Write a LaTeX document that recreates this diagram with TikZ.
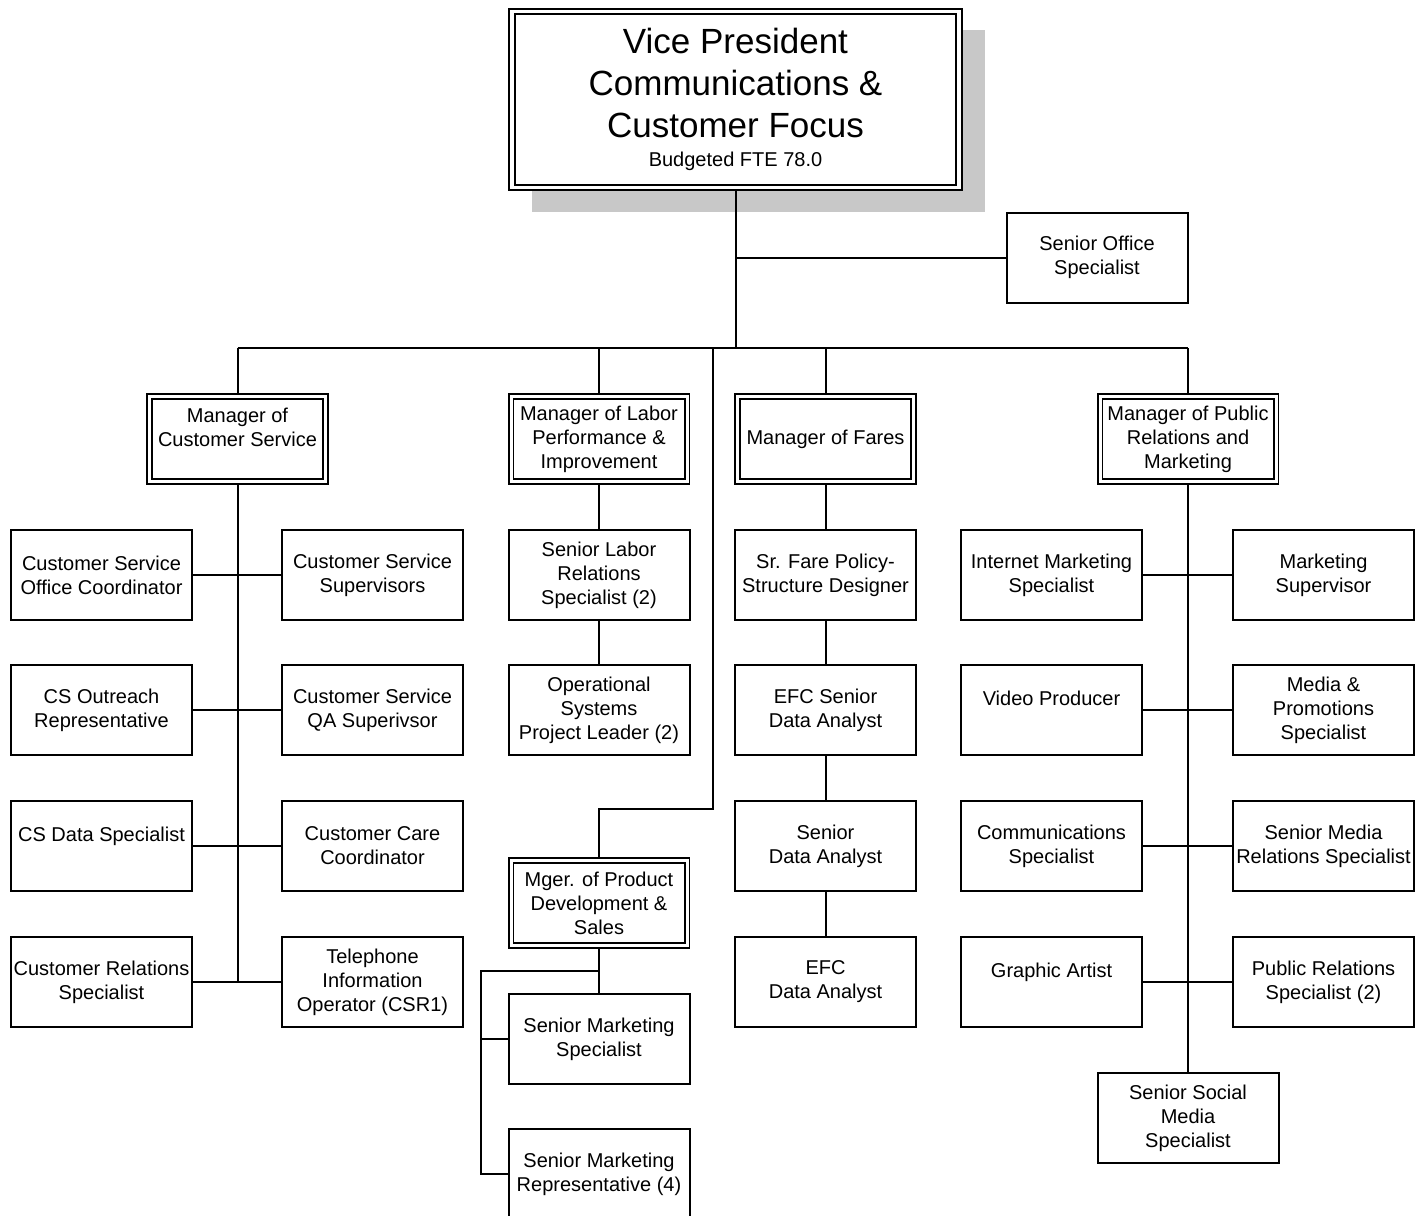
\documentclass[tikz,border=0pt]{standalone}
\usepackage{fontspec}
\setmainfont{Liberation Sans}
\usetikzlibrary{backgrounds}
\definecolor{shadowgray}{RGB}{200,200,200}
\begin{document}
\begin{tikzpicture}[x=1pt,y=-1pt,
  box/.style={draw=black, line width=2pt, fill=white, minimum width=181pt,
    minimum height=90pt, inner sep=0pt, align=center,
    font=\fontsize{20}{24}\selectfont},
  mgr/.style={box, double=white, double distance=3pt, line width=1.7pt,
    minimum width=176pt, minimum height=85pt},
  link/.style={draw=black, line width=2pt},
]
\useasboundingbox (0,0) rectangle (1426,1215);

% ---- top position ----
\node[mgr, line width=1.9pt, double distance=3.4pt, minimum width=447pt,
  minimum height=176pt, font=\fontsize{35}{42}\selectfont] (vp) at (735.5,99.5)
  {Vice President\\Communications \&\\Customer Focus\\[-13.5pt]{\fontsize{20}{24}\selectfont Budgeted FTE 78.0}};
\node[box] (sos) at (1097,257.5) {Senior Office\\Specialist};

% ---- managers ----
\node[mgr] (mcs)  at (237.5,439) {Manager of\\Customer Service\\~};
\node[mgr] (mlab) at (599,439)   {Manager of Labor\\Performance \&\\Improvement};
\node[mgr] (mfa)  at (825.5,439) {Manager of Fares};
\node[mgr] (mpr)  at (1188,439)  {Manager of Public\\Relations and\\Marketing};
\node[mgr] (mpd)  at (599,903)   {Mger. of Product\\Development \&\\Sales};

% ---- customer service ----
\node[box] (cs1l) at (101.5,575) {Customer Service\\Office Coordinator};
\node[box] (cs1r) at (372.5,575) {Customer Service\\Supervisors};
\node[box] (cs2l) at (101.5,710) {CS Outreach\\Representative};
\node[box] (cs2r) at (372.5,710) {Customer Service\\QA Superivsor};
\node[box] (cs3l) at (101.5,846) {CS Data Specialist\\~};
\node[box] (cs3r) at (372.5,846) {Customer Care\\Coordinator};
\node[box] (cs4l) at (101.5,982) {Customer Relations\\Specialist};
\node[box] (cs4r) at (372.5,982) {Telephone\\Information\\Operator (CSR1)};

% ---- labor ----
\node[box] (lab1) at (599,575) {Senior Labor\\Relations\\Specialist (2)};
\node[box] (lab2) at (599,710) {Operational\\Systems\\Project Leader (2)};

% ---- product development ----
\node[box] (sms) at (599,1039) {Senior Marketing\\Specialist};
\node[box] (smr) at (599,1174) {Senior Marketing\\Representative (4)};

% ---- fares ----
\node[box] (fa1) at (825.5,575) {Sr. Fare Policy-\\Structure Designer};
\node[box] (fa2) at (825.5,710) {EFC Senior\\Data Analyst};
\node[box] (fa3) at (825.5,846) {Senior\\Data Analyst};
\node[box] (fa4) at (825.5,982) {EFC\\Data Analyst};

% ---- public relations ----
\node[box] (pr1l) at (1051.5,575) {Internet Marketing\\Specialist};
\node[box] (pr1r) at (1323.5,575) {Marketing\\Supervisor};
\node[box] (pr2l) at (1051.5,710) {Video Producer\\~};
\node[box] (pr2r) at (1323.5,710) {Media \&\\Promotions\\Specialist};
\node[box] (pr3l) at (1051.5,846) {Communications\\Specialist};
\node[box] (pr3r) at (1323.5,846) {Senior Media\\Relations Specialist};
\node[box] (pr4l) at (1051.5,982) {Graphic Artist\\~};
\node[box] (pr4r) at (1323.5,982) {Public Relations\\Specialist (2)};
\node[box] (ssm)  at (1188,1118)  {Senior Social\\Media\\Specialist};

\coordinate (bus) at (735.5,348);
\coordinate (pdturn) at (713,809);
\coordinate (pdjoin) at (481,971);

\begin{pgfonlayer}{background}
  \fill[white] (0,0) rectangle (1426,1215);
  % drop shadow of the top box
  \fill[shadowgray] (532,30) rectangle (985,212);

  % trunk and bus
  \draw[link] (vp.south) -- (bus);
  \draw[link] (vp.south |- sos.west) -- (sos.west);
  \draw[link] (mcs.north |- bus) -- (mpr.north |- bus);
  \draw[link] (mcs.north) -- (mcs.north |- bus);
  \draw[link] (mlab.north) -- (mlab.north |- bus);
  \draw[link] (mfa.north) -- (mfa.north |- bus);
  \draw[link] (mpr.north) -- (mpr.north |- bus);
  \draw[link] (pdturn |- bus) -- (pdturn) -| (mpd.north);

  % customer service
  \draw[link] (mcs.south) -- (mcs.south |- cs4l.east);
  \draw[link] (cs1l.east) -- (cs1r.west);
  \draw[link] (cs2l.east) -- (cs2r.west);
  \draw[link] (cs3l.east) -- (cs3r.west);
  \draw[link] (cs4l.east) -- (cs4r.west);

  % labor
  \draw[link] (mlab.south) -- (lab1.north);
  \draw[link] (lab1.south) -- (lab2.north);

  % product development
  \draw[link] (mpd.south) -- (sms.north);
  \draw[link] (mpd.south |- pdjoin) -- (pdjoin) |- (smr.west);
  \draw[link] (pdjoin |- sms.west) -- (sms.west);

  % fares
  \draw[link] (mfa.south) -- (fa1.north);
  \draw[link] (fa1.south) -- (fa2.north);
  \draw[link] (fa2.south) -- (fa3.north);
  \draw[link] (fa3.south) -- (fa4.north);

  % public relations
  \draw[link] (mpr.south) -- (ssm.north);
  \draw[link] (pr1l.east) -- (pr1r.west);
  \draw[link] (pr2l.east) -- (pr2r.west);
  \draw[link] (pr3l.east) -- (pr3r.west);
  \draw[link] (pr4l.east) -- (pr4r.west);
\end{pgfonlayer}
\end{tikzpicture}
\end{document}
